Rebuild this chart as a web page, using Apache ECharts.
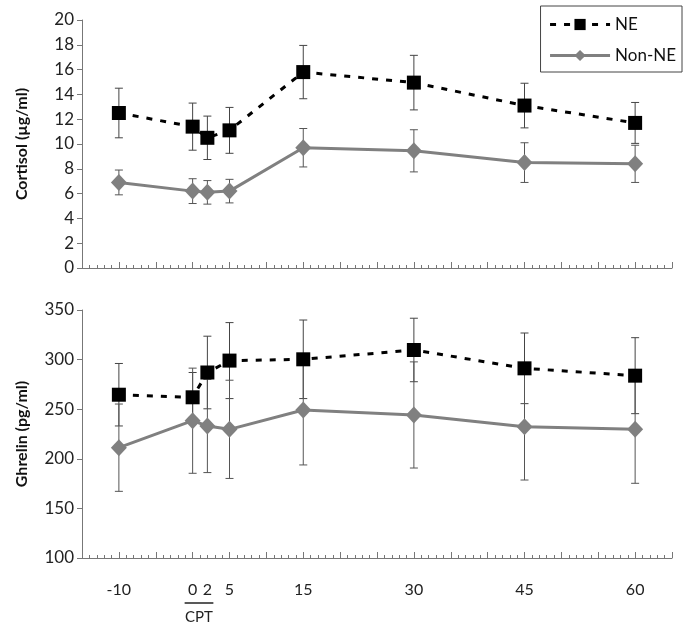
<!DOCTYPE html>
<html>
<head>
<meta charset="utf-8">
<script src="https://cdn.jsdelivr.net/npm/echarts@6/dist/echarts.min.js"></script>
<style>html,body{margin:0;padding:0;background:#fff}#c{width:689px;height:628px}</style>
</head>
<body>
<div id="c"></div>
<script>
// ---- data ----
const time = [-10, 0, 2, 5, 15, 30, 45, 60];
const xLabels = [-10, 0, 2, 5, 15, 30, 45, 60];
const xTicks = [-15, -10, -5, 0, 5, 10, 15, 20, 25, 30, 35, 40, 45, 50, 55, 60, 65];
const cortisolNE = [12.5, 11.4, 10.5, 11.1, 15.8, 14.95, 13.1, 11.7];
const cortisolNEErr = [2.0, 1.9, 1.75, 1.85, 2.15, 2.2, 1.8, 1.65];
const cortisolNon = [6.9, 6.2, 6.1, 6.2, 9.7, 9.45, 8.5, 8.4];
const cortisolNonErr = [1.0, 1.0, 0.95, 0.95, 1.55, 1.7, 1.6, 1.5];
const ghrelinNE = [264.6, 262, 287, 299, 300.3, 309.7, 291.2, 283.8];
const ghrelinNEErr = [31.5, 25, 36.6, 38.3, 39.6, 32, 35.6, 38.3];
const ghrelinNon = [211.2, 238.4, 233.1, 229.7, 249.2, 244.2, 232.4, 229.7];
const ghrelinNonErr = [44, 53, 47, 49.5, 55.4, 53.5, 53.8, 54.4];

const FONT = 'Lato';
const chart = echarts.init(document.getElementById('c'), null, {renderer: 'canvas'});

function pairs(xs, ys) { return xs.map((x, i) => [x, ys[i]]); }

function errSeries(idx, vals, errs, color) {
  return {
    type: 'custom', xAxisIndex: idx, yAxisIndex: idx, z: 1, silent: true,
    encode: {x: 0, y: [1, 2]},
    data: time.map((t, i) => [t, vals[i] - errs[i], vals[i] + errs[i]]),
    renderItem: function (params, api) {
      const x = api.value(0);
      const lo = api.coord([x, api.value(1)]);
      const hi = api.coord([x, api.value(2)]);
      const w = 4;
      const st = {stroke: color, lineWidth: 1};
      return {type: 'group', children: [
        {type: 'line', shape: {x1: lo[0], y1: lo[1], x2: hi[0], y2: hi[1]}, style: st},
        {type: 'line', shape: {x1: lo[0] - w, y1: lo[1], x2: lo[0] + w, y2: lo[1]}, style: st},
        {type: 'line', shape: {x1: hi[0] - w, y1: hi[1], x2: hi[0] + w, y2: hi[1]}, style: st}
      ]};
    }
  };
}

function neSeries(idx, vals) {
  return {
    name: 'NE', type: 'line', xAxisIndex: idx, yAxisIndex: idx, z: 3,
    data: pairs(time, vals),
    symbol: 'rect', symbolSize: 14,
    itemStyle: {color: '#000'},
    lineStyle: {color: '#000', width: 3, type: [6, 8]}
  };
}
function nonSeries(idx, vals) {
  return {
    name: 'Non-NE', type: 'line', xAxisIndex: idx, yAxisIndex: idx, z: 2,
    data: pairs(time, vals),
    symbol: 'diamond', symbolSize: [16, 17],
    itemStyle: {color: '#808080'},
    lineStyle: {color: '#808080', width: 3}
  };
}

function xAxis(idx, showLabels) {
  return {
    type: 'value', gridIndex: idx, min: -15, max: 65, interval: 5,
    axisLine: {onZero: false, lineStyle: {color: '#777', width: 1}},
    axisTick: {inside: true, length: 6, lineStyle: {color: '#777'}, customValues: xTicks},
    minorTick: {show: true, splitNumber: 5, length: 3, lineStyle: {color: '#777'}},
    splitLine: {show: false},
    axisLabel: showLabels ? {
      customValues: xLabels, margin: 24, color: '#222', fontSize: 16, fontFamily: FONT
    } : {show: false}
  };
}
function yAxis(idx, name, min, max, interval) {
  return {
    type: 'value', gridIndex: idx, min: min, max: max, interval: interval,
    name: name, nameLocation: 'middle', nameGap: 52,
    nameTextStyle: {fontSize: 16, fontWeight: 'bold', fontFamily: FONT, color: '#111'},
    axisLine: {show: true, onZero: false, lineStyle: {color: '#777', width: 1}},
    axisTick: {show: true, length: 5, lineStyle: {color: '#777'}},
    splitLine: {show: false},
    axisLabel: {color: '#222', fontSize: 17, fontFamily: FONT, margin: 8}
  };
}

chart.setOption({
  animation: false,
  backgroundColor: '#fff',
  grid: [
    {left: 82, right: 17, top: 20, height: 248},
    {left: 82, right: 17, top: 310, height: 248}
  ],
  xAxis: [xAxis(0, false), xAxis(1, true)],
  yAxis: [
    yAxis(0, 'Cortisol (µg/ml)', 0, 20, 2),
    yAxis(1, 'Ghrelin (pg/ml)', 100, 350, 50)
  ],
  legend: {
    data: [
      {name: 'NE', lineStyle: {width: 3}},
      {name: 'Non-NE', lineStyle: {width: 3}}
    ],
    orient: 'vertical', right: 7, top: 6,
    padding: [10, 6, 8, 8], itemGap: 14, itemWidth: 60, itemHeight: 14,
    borderColor: '#444', borderWidth: 1, backgroundColor: '#fff',
    textStyle: {fontSize: 17, fontFamily: FONT, color: '#111'}
  },
  series: [
    errSeries(0, cortisolNE, cortisolNEErr, '#444'),
    errSeries(0, cortisolNon, cortisolNonErr, '#555'),
    neSeries(0, cortisolNE),
    nonSeries(0, cortisolNon),
    errSeries(1, ghrelinNE, ghrelinNEErr, '#444'),
    errSeries(1, ghrelinNon, ghrelinNonErr, '#555'),
    neSeries(1, ghrelinNE),
    nonSeries(1, ghrelinNon)
  ]
});

// CPT annotation under the 0 and 2 labels
const p0 = chart.convertToPixel({xAxisIndex: 1}, 0);
const p2 = chart.convertToPixel({xAxisIndex: 1}, 2);
chart.setOption({
  graphic: [
    {type: 'line', shape: {x1: p0 - 8, y1: 603, x2: p2 + 6, y2: 603}, style: {stroke: '#222', lineWidth: 1.5}},
    {type: 'text', x: (p0 + p2) / 2 - 1, y: 617, style: {text: 'CPT', fontSize: 15, fontFamily: FONT, fill: '#222', align: 'center', verticalAlign: 'middle'}}
  ]
});
</script>
</body>
</html>
